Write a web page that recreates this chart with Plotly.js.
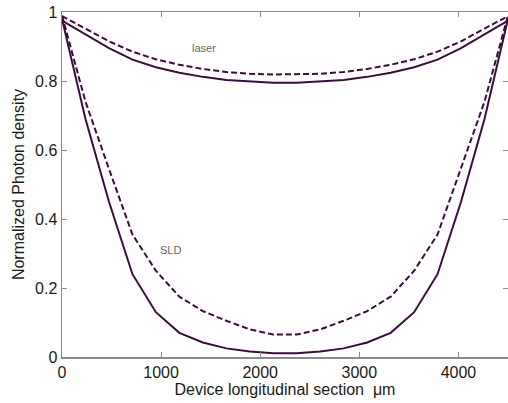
<!DOCTYPE html>
<html>
<head>
<meta charset="utf-8">
<script src="https://cdn.plot.ly/plotly-3.0.1.min.js"></script>
<style>html,body{margin:0;padding:0;background:#fff;}#chart{width:508px;height:403px;}</style>
</head>
<body>
<div id="chart"></div>
<script>
// Device longitudinal position (um)
const xPos = [0,237,474,711,947,1184,1421,1658,1895,2132,2368,2605,2842,3079,3316,3553,3789,4026,4263,4500];
// Laser, solid
const laserSolid = [0.975,0.935,0.895,0.862,0.840,0.824,0.812,0.803,0.798,0.795,0.795,0.798,0.803,0.812,0.824,0.840,0.862,0.895,0.935,0.975];
// Laser, dashed
const laserDashed = [0.988,0.952,0.915,0.885,0.863,0.847,0.835,0.826,0.821,0.819,0.819,0.821,0.826,0.835,0.847,0.863,0.885,0.915,0.952,0.988];
// SLD, solid
const sldSolid = [0.980,0.690,0.450,0.240,0.130,0.070,0.042,0.025,0.016,0.011,0.011,0.016,0.025,0.042,0.070,0.130,0.240,0.450,0.690,0.980];
// SLD, dashed
const sldDashed = [0.990,0.740,0.545,0.355,0.250,0.175,0.133,0.105,0.080,0.065,0.065,0.080,0.105,0.133,0.175,0.250,0.355,0.545,0.740,0.990];

const xTicks = [0,1000,2000,3000,4000];
const yTicks = [0,0.2,0.4,0.6,0.8,1];
const yTickText = ['0','0.2','0.4','0.6','0.8','1'];
const labels = [{text:'laser', x:1437, y:0.895},{text:'SLD', x:1090, y:0.31}];

const col = '#3b0d3d';
const mk = (y, dash) => ({x:xPos, y:y, mode:'lines', type:'scatter',
  line:{color:col, width:2, dash:dash}, hoverinfo:'none', showlegend:false});

const data = [mk(laserSolid,'solid'), mk(laserDashed,'6px,3px'), mk(sldSolid,'solid'), mk(sldDashed,'6px,3px')];

const axisCommon = {showgrid:false, zeroline:false, showline:true, linecolor:'#8a8a8a', linewidth:1.5,
  mirror:'ticks', ticks:'inside', ticklen:5, tickcolor:'#8a8a8a', tickwidth:1,
  tickfont:{family:'Arial, Liberation Sans, sans-serif', size:16, color:'#1a1a1a'}};

const layout = {
  width:508, height:403,
  margin:{l:62, r:0, t:12, b:46},
  paper_bgcolor:'#fff', plot_bgcolor:'#fff',
  xaxis:Object.assign({}, axisCommon, {range:[0,4500], tickvals:xTicks, ticktext:xTicks.map(String),
    title:{text:'Device longitudinal section  \u03bcm', font:{family:'Arial, Liberation Sans, sans-serif', size:16, color:'#1a1a1a'}, standoff:2}}),
  yaxis:Object.assign({}, axisCommon, {range:[0,1], tickvals:yTicks, ticktext:yTickText,
    title:{text:'Normalized Photon density', font:{family:'Arial, Liberation Sans, sans-serif', size:16, color:'#1a1a1a'}, standoff:6}}),
  annotations: labels.map(l => ({x:l.x, y:l.y, xref:'x', yref:'y', text:l.text, showarrow:false,
    font:{family:'Arial, Liberation Sans, sans-serif', size:11, color:'#666'}})),
  showlegend:false
};

Plotly.newPlot('chart', data, layout, {displayModeBar:false, staticPlot:true});
</script>
</body>
</html>
